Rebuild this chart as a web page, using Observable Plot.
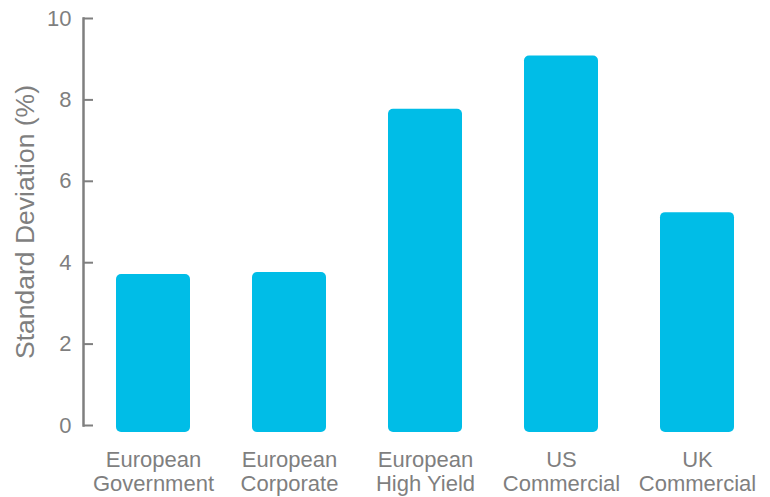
<!DOCTYPE html>
<html>
<head>
<meta charset="utf-8">
<script src="https://cdn.jsdelivr.net/npm/d3@7"></script>
<script src="https://cdn.jsdelivr.net/npm/@observablehq/plot@0.6"></script>
<style>
  html, body { margin: 0; padding: 0; background: #fff; }
  #chart svg { display: block; }
</style>
</head>
<body>
<div id="chart"></div>
<script>
const categories = ["European\nGovernment", "European\nCorporate", "European\nHigh Yield", "US\nCommercial", "UK\nCommercial"];
const values = [3.71, 3.76, 7.77, 9.08, 5.23];
const yTicks = [0, 2, 4, 6, 8, 10];
const yLabel = "Standard Deviation (%)";

const data = categories.map((c, i) => ({ cat: c, value: values[i] }));
const gray = "#7f7f7f";

const chart = Plot.plot({
  width: 770,
  height: 497,
  marginTop: 18,
  marginBottom: 72,
  marginLeft: 83,
  marginRight: 3,
  style: { fontFamily: "Liberation Sans, Arial, Helvetica, sans-serif", color: gray, background: "#fff" },
  x: { domain: categories, paddingInner: 0.455, paddingOuter: 0.23, align: 0.5 },
  y: { domain: [0, 10] },
  marks: [
    Plot.barY(data, { x: "cat", y: "value", fill: "#00bde7", rx: 5, insetBottom: -7 }),
    Plot.axisX({ tickSize: 0, tickPadding: 25, fontSize: 22, lineHeight: 1.07, fill: gray, label: null }),
    Plot.axisY({ ticks: yTicks, tickSize: 0, tickPadding: 12, fontSize: 22, fill: gray, label: null }),
    Plot.axisY({ ticks: yTicks, tickSize: 0, text: null, fontSize: 26.5, fill: gray,
      label: yLabel, labelAnchor: "center", labelArrow: "none", labelOffset: 68 }),
    Plot.axisY({ ticks: yTicks, tickSize: -10, text: null, label: null, stroke: gray, strokeWidth: 2 }),
    Plot.frame({ anchor: "left", stroke: gray, strokeWidth: 2.5 })
  ]
});
document.getElementById("chart").appendChild(chart);
</script>
</body>
</html>
